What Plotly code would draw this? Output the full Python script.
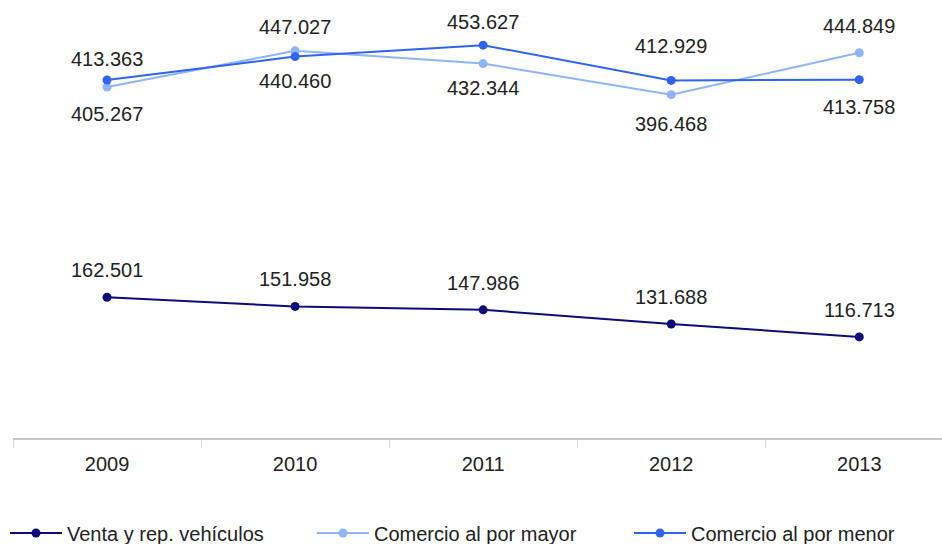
import plotly.graph_objects as go

years = ["2009", "2010", "2011", "2012", "2013"]
venta = [162.501, 151.958, 147.986, 131.688, 116.713]
mayor = [405.267, 447.027, 432.344, 396.468, 444.849]
menor = [413.363, 440.460, 453.627, 412.929, 413.758]

names = ["Venta y rep. vehículos", "Comercio al por mayor", "Comercio al por menor"]
colors = ["#0c0c7a", "#8fb5f9", "#2f63f5"]
# label vertical shift in px (+ above, - below)
venta_shift = [27, 27, 27, 27, 27]
mayor_shift = [-27, 24, -24, -29, 27]
menor_shift = [21, -24, 23, 34, -27]

FONT = "Liberation Sans, Arial, Helvetica, sans-serif"

fig = go.Figure()
series = [venta, mayor, menor]
shifts = [venta_shift, mayor_shift, menor_shift]
legend_ids = ["legend", "legend2", "legend3"]
legend_x = [5 / 942, 312 / 942, 629 / 942]
for vals, name, col, lg in zip(series, names, colors, legend_ids):
    fig.add_trace(go.Scatter(
        x=years, y=vals, name=name, mode="lines+markers",
        line=dict(color=col, width=2),
        marker=dict(color=col, size=9),
        cliponaxis=False, legend=lg,
    ))

def fmt(v):
    return f"{v:.3f}"

for vals, sh in zip(series, shifts):
    for i, (v, s) in enumerate(zip(vals, sh)):
        fig.add_annotation(
            x=i, y=v, text=fmt(v), showarrow=False,
            yshift=s, font=dict(family=FONT, size=20, color="#222222"),
        )

legend_common = dict(
    orientation="h", xanchor="left", yanchor="middle",
    xref="container", yref="container", y=1 - 533 / 544,
    font=dict(family=FONT, size=20, color="#222222"),
    itemwidth=52, bgcolor="rgba(0,0,0,0)",
)

layout_legends = {}
for lg, lx in zip(legend_ids, legend_x):
    layout_legends[lg] = dict(legend_common, x=lx)

fig.update_layout(
    width=942, height=544,
    margin=dict(l=13, r=0, t=5, b=106, autoexpand=False),
    paper_bgcolor="white", plot_bgcolor="white",
    font=dict(family=FONT, size=20, color="#222222"),
    showlegend=True,
    **layout_legends,
)
fig.update_xaxes(
    type="category", range=[-0.5, 4.44], automargin=False,
    showline=True, linecolor="#c8c8c8", linewidth=1.5,
    ticks="outside", tickson="boundaries", ticklen=8, tickcolor="#d8d8d8",
    ticklabelstandoff=7,
    showgrid=False, zeroline=False,
    tickfont=dict(family=FONT, size=20, color="#222222"),
)
fig.update_yaxes(
    range=[0, 500], visible=False, showgrid=False, zeroline=False,
)

fig.write_html(
    "out.html",
    config={"displayModeBar": False},
    post_script="document.body.style.margin='0px';document.body.style.overflow='hidden';",
)
